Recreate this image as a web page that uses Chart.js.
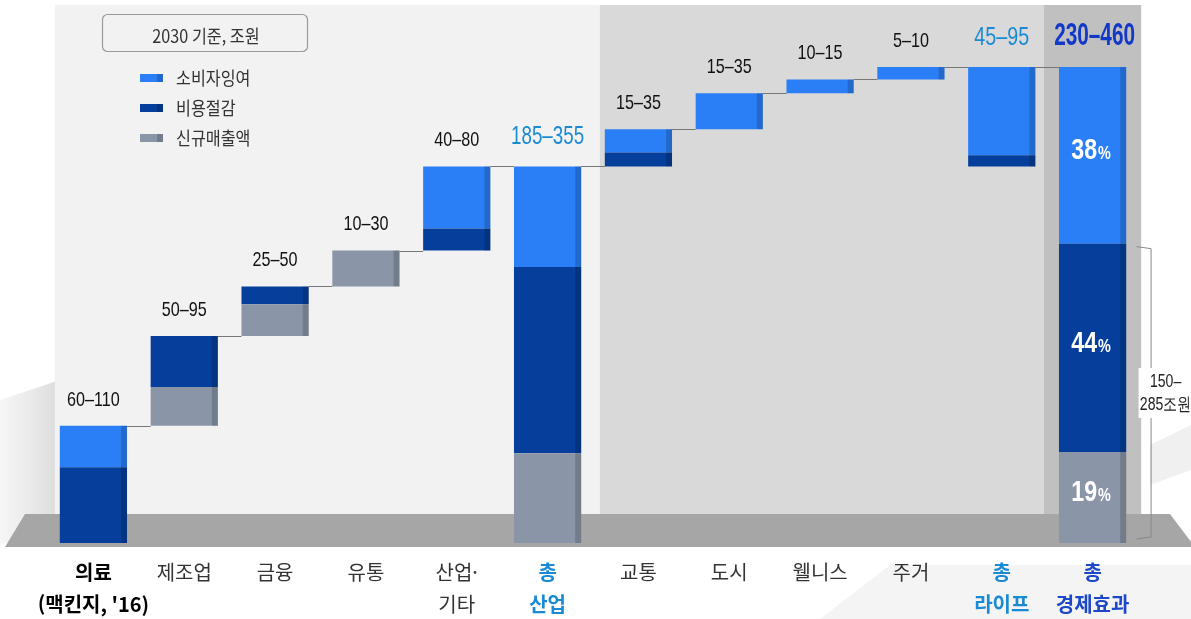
<!DOCTYPE html>
<html lang="ko">
<head>
<meta charset="UTF-8">
<title>2030 경제효과</title>
<style>
  html, body { margin: 0; padding: 0; background: #fff; }
  #wrap { width: 1191px; height: 619px; }
</style>
<script src="https://cdn.jsdelivr.net/npm/chart.js"></script>
</head>
<body>
<div id="wrap"><canvas id="chart" width="1191" height="619"></canvas></div>
<script>
// values in 조원 (bar heights)
const categories = [['의료', "(맥킨지, '16)"], '제조업', '금융', '유통', ['산업·', '기타'], ['총', '산업'],
                    '교통', '도시', '웰니스', '주거', ['총', '라이프'], ['총', '경제효과']];
const barKind   = ['step', 'step', 'step', 'step', 'step', 'total', 'step', 'step', 'step', 'step', 'sub', 'total'];
const surplus   = [30, 0, 0, 0, 45, 73, 17, 26, 10, 9, 64, 128];
const costCut   = [55, 37, 13, 0, 16, 135, 10, 0, 0, 0, 8, 151];
const newSales  = [0, 28, 23, 26, 0, 65, 0, 0, 0, 0, 0, 66];
const rangeLabels = ['60–110', '50–95', '25–50', '10–30', '40–80', '185–355',
                     '15–35', '15–35', '10–15', '5–10', '45–95', '230–460'];
const shareLabels = ['19', '44', '38'];   // 신규매출액, 비용절감, 소비자잉여 of total
const seriesNames = ['소비자잉여', '비용절감', '신규매출액'];
const unitLabel = '2030 기준, 조원';
const bracketLabel = ['150–', '285조원'];

const C_LIGHT = '#2b7ff6', C_DARK = '#053f9b', C_GRAY = '#8a96a8';
const SANS = "'Liberation Sans', Arial, sans-serif";
const KR = "'Noto Sans CJK KR', 'Noto Sans', sans-serif";

// waterfall bases
let running = 0, groupStart = 0;
const bases = [];
const sums = categories.map((c, i) => surplus[i] + costCut[i] + newSales[i]);
barKind.forEach((k, i) => {
  if (k === 'step') { bases.push(running); running += sums[i]; }
  else if (k === 'total') { bases.push(0); groupStart = running; }
  else { bases.push(groupStart); }
});
const tops = bases.map((b, i) => b + sums[i]);

function seg(from, size) {
  return size > 0 ? [from, from + size] : null;
}
const grayData = categories.map((c, i) => seg(bases[i], newSales[i]));
const darkData = categories.map((c, i) => seg(bases[i] + newSales[i], costCut[i]));
const lightData = categories.map((c, i) => seg(bases[i] + newSales[i] + costCut[i], surplus[i]));

const BAR_PCT = 0.74;

// condensed text: the original uses a narrow face, so squeeze horizontally
function narrowText(ctx, text, x, y, font, color, sx, align) {
  ctx.save();
  ctx.translate(x, y);
  ctx.scale(sx, 1);
  ctx.font = font;
  ctx.fillStyle = color;
  ctx.textAlign = align || 'center';
  ctx.textBaseline = 'middle';
  ctx.fillText(text, 0, 0);
  ctx.restore();
}

const backdrop = {
  id: 'backdrop',
  beforeDraw(chart) {
    const { ctx, scales: { x, y }, chartArea } = chart;
    const band = x.getPixelForValue(1) - x.getPixelForValue(0);
    const half = band * BAR_PCT / 2;
    const floorTop = y.getPixelForValue(0) - 29;
    const floorBot = y.getPixelForValue(0) + 4;
    ctx.save();
    // faint decorative shapes on white
    let g = ctx.createLinearGradient(0, 0, 60, 0);
    g.addColorStop(0, 'rgba(225,225,225,0.3)');
    g.addColorStop(1, 'rgba(215,215,215,0.9)');
    ctx.fillStyle = g;
    ctx.beginPath();
    ctx.moveTo(0, 400); ctx.lineTo(60, 380); ctx.lineTo(60, 525); ctx.lineTo(0, 545); ctx.closePath();
    ctx.fill();
    ctx.fillStyle = '#f4f4f4';
    ctx.beginPath();
    ctx.moveTo(820, 619); ctx.lineTo(890, 565); ctx.lineTo(1191, 565); ctx.lineTo(1191, 619); ctx.closePath();
    ctx.fill();
    ctx.fillStyle = '#f0f0f0';
    ctx.beginPath();
    ctx.moveTo(1150, 445); ctx.lineTo(1191, 425); ctx.lineTo(1191, 470); ctx.lineTo(1150, 485); ctx.closePath();
    ctx.fill();
    // panels
    const p0 = x.getPixelForValue(0) - half - 5;
    const p1 = x.getPixelForValue(6) - half - 5;
    const p2 = x.getPixelForValue(11) - half - 15;
    const p3 = x.getPixelForValue(11) + half + 15;
    const top = chartArea.top;
    ctx.fillStyle = '#f2f2f2';
    ctx.fillRect(p0, top, p1 - p0, floorTop - top);
    ctx.fillStyle = '#d9d9d9';
    ctx.fillRect(p1, top, p2 - p1, floorTop - top);
    ctx.fillStyle = '#c0c0c0';
    ctx.fillRect(p2, top, p3 - p2, floorTop - top);
    // floor
    ctx.fillStyle = '#a6a6a6';
    ctx.beginPath();
    ctx.moveTo(25, floorTop); ctx.lineTo(1170, floorTop);
    ctx.lineTo(1195, floorBot); ctx.lineTo(5, floorBot); ctx.closePath();
    ctx.fill();
    ctx.restore();
  },
  beforeDatasetsDraw(chart) {
    const { ctx, scales: { x, y } } = chart;
    const band = x.getPixelForValue(1) - x.getPixelForValue(0);
    const half = band * BAR_PCT / 2;
    ctx.save();
    ctx.strokeStyle = '#777';
    ctx.lineWidth = 1;
    for (let i = 0; i < categories.length - 1; i++) {
      const yy = Math.round(y.getPixelForValue(tops[i])) + 0.5;
      ctx.beginPath();
      ctx.moveTo(x.getPixelForValue(i) + half, yy);
      ctx.lineTo(x.getPixelForValue(i + 1) - half, yy);
      ctx.stroke();
    }
    ctx.restore();
  },
  afterDatasetsDraw(chart) {
    const { ctx, scales: { x, y } } = chart;
    ctx.save();
    // darker right edge on every bar
    chart.data.datasets.forEach((ds, di) => {
      chart.getDatasetMeta(di).data.forEach((el, i) => {
        if (!ds.data[i]) return;
        const t = Math.min(el.y, el.base), h = Math.abs(el.base - el.y);
        ctx.fillStyle = 'rgba(0,0,0,0.17)';
        ctx.fillRect(el.x + el.width / 2 - 6, t, 6, h);
      });
    });
    // range labels above bars
    rangeLabels.forEach((lab, i) => {
      const cx = x.getPixelForValue(i);
      const ty = y.getPixelForValue(tops[i]);
      if (i === 11) {
        narrowText(ctx, lab, cx + 2, ty - 31, 'bold 31px ' + SANS, '#1238c8', 0.67);
      } else if (i === 5 || i === 10) {
        narrowText(ctx, lab, cx, ty - 29, '25px ' + SANS, '#1a8ad4', i === 5 ? 0.75 : 0.79);
      } else {
        narrowText(ctx, lab, cx, ty - 26, '21px ' + SANS, '#111', 0.77);
      }
    });
    // shares inside the grand total bar
    const last = categories.length - 1;
    const segs = [grayData[last], darkData[last], lightData[last]];
    segs.forEach((s, k) => {
      const cy = (y.getPixelForValue(s[0]) + y.getPixelForValue(s[1])) / 2 - 4;
      ctx.font = 'bold 29px ' + SANS;
      const w1 = ctx.measureText(shareLabels[k]).width * 0.8;
      ctx.font = 'bold 18px ' + SANS;
      const w2 = ctx.measureText('%').width * 0.8;
      const sx = x.getPixelForValue(last) - (w1 + w2) / 2 - 2;
      narrowText(ctx, shareLabels[k], sx, cy, 'bold 29px ' + SANS, '#fff', 0.8, 'left');
      narrowText(ctx, '%', sx + w1 + 1, cy + 3, 'bold 18px ' + SANS, '#fff', 0.8, 'left');
    });
    // bracket 150-285조원
    const bx = x.getPixelForValue(last) + 58;
    const by0 = y.getPixelForValue(lightData[last][0]) + 5;
    const by1 = y.getPixelForValue(0) - 6;
    ctx.strokeStyle = '#888';
    ctx.lineWidth = 1;
    ctx.beginPath();
    ctx.moveTo(bx - 14, by0 - 2); ctx.lineTo(bx + 0.5, by0); ctx.lineTo(bx + 0.5, by1); ctx.lineTo(bx - 14, by1 + 2);
    ctx.stroke();
    ctx.fillStyle = '#fff';
    ctx.fillRect(bx - 12, 368, 60, 50);
    narrowText(ctx, bracketLabel[0], bx + 15, 382, '18px ' + SANS, '#222', 0.78);
    narrowText(ctx, bracketLabel[1], bx + 15, 405, '18px ' + SANS, '#222', 0.78);
    // unit box and legend
    ctx.strokeStyle = '#9a9a9a';
    ctx.lineWidth = 1.2;
    ctx.fillStyle = '#f2f2f2';
    ctx.beginPath();
    ctx.roundRect(102.5, 14.5, 205, 37, 5);
    ctx.fill(); ctx.stroke();
    narrowText(ctx, unitLabel, 206, 36, '18px ' + KR, '#333', 0.9);
    const swatch = [C_LIGHT, C_DARK, C_GRAY];
    seriesNames.forEach((nm, k) => {
      const ly = 78 + k * 30;
      ctx.fillStyle = swatch[k];
      ctx.fillRect(140, ly - 4, 23, 8);
      ctx.fillStyle = 'rgba(0,0,0,0.17)';
      ctx.fillRect(157, ly - 4, 6, 8);
      narrowText(ctx, nm, 176, ly, '18px ' + KR, '#333', 0.9, 'left');
    });
    ctx.restore();
  }
};

function tickColor(ctx) {
  const i = ctx.index;
  if (i === 0) return '#000';
  if (i === 5 || i === 10) return '#1a8ad4';
  if (i === 11) return '#1d48c8';
  return '#333';
}
function tickFont(ctx) {
  const i = ctx.index;
  const bold = i === 0 || i === 5 || i === 10 || i === 11;
  return { family: KR, size: 20, weight: bold ? 'bold' : 'normal', lineHeight: 1.6 };
}

new Chart(document.getElementById('chart'), {
  type: 'bar',
  data: {
    labels: categories,
    datasets: [
      { label: seriesNames[2], data: grayData, backgroundColor: C_GRAY },
      { label: seriesNames[1], data: darkData, backgroundColor: C_DARK },
      { label: seriesNames[0], data: lightData, backgroundColor: C_LIGHT }
    ]
  },
  options: {
    responsive: false,
    animation: false,
    datasets: { bar: { barPercentage: BAR_PCT, categoryPercentage: 1, borderWidth: 0 } },
    layout: { padding: { left: 48, right: 53, top: 5, bottom: 0 } },
    plugins: { legend: { display: false }, tooltip: { enabled: false } },
    scales: {
      x: {
        stacked: true,
        grid: { display: false },
        border: { display: false },
        afterFit(scale) { scale.height = 76; },
        ticks: { padding: 5, autoSkip: false, maxRotation: 0, color: tickColor, font: tickFont }
      },
      y: { display: false, stacked: false, min: 0, max: 390 }
    }
  },
  plugins: [backdrop]
});
</script>
</body>
</html>
